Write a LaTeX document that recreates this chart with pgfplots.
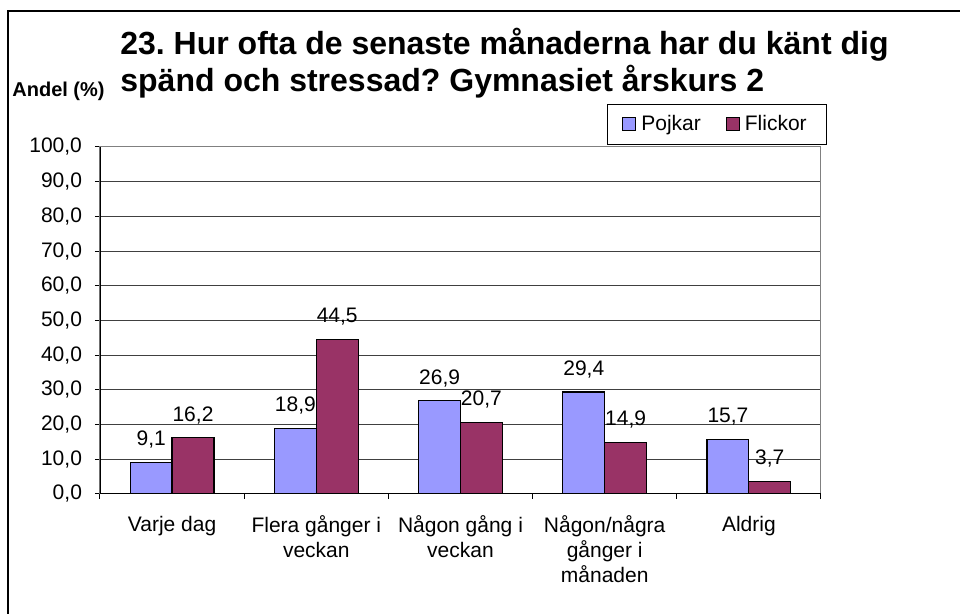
\documentclass[border=0pt]{standalone}
\usepackage{fontspec}
\setmainfont{Liberation Sans}
\usepackage{pgfplots}
\pgfplotsset{compat=1.18}
\definecolor{poj}{HTML}{9999FF}
\definecolor{fli}{HTML}{993366}
\frenchspacing
\begin{document}
\begin{tikzpicture}
\useasboundingbox (0pt,0pt) rectangle (480pt,307pt);
\draw[line width=0.6pt] (4pt,0pt) -- (4pt,301.5pt) -- (480pt,301.5pt);
\node[anchor=base west, font=\fontsize{16}{19}\selectfont\bfseries, inner sep=0pt] at (60pt,279.5pt) {23. Hur ofta de senaste månaderna har du känt dig};
\node[anchor=base west, font=\fontsize{16}{19}\selectfont\bfseries, inner sep=0pt] at (60pt,261pt) {spänd och stressad? Gymnasiet årskurs 2};
\node[anchor=base west, font=\fontsize{10}{12}\selectfont\bfseries, inner sep=0pt] at (6pt,258.5pt) {Andel (\%)};
\begin{axis}[
  at={(50pt,60pt)}, anchor=south west, scale only axis,
  width=360.5pt, height=173.5pt,
  ybar=0pt, bar width=0.29,
  xmin=-0.5, xmax=4.5, ymin=0, ymax=100,
  ytick={0,10,...,100},
  xtick={0,1,2,3,4},
  xticklabels={Varje dag, {Flera gånger i\\veckan}, {Någon gång i\\veckan}, {Någon/några\\gånger i\\månaden}, Aldrig},
  minor xtick={-0.5,0.5,1.5,2.5,3.5,4.5},
  xtick pos=bottom, ytick pos=left,
  tick align=outside,
  major tick length=2.5pt, minor tick length=2.5pt,
  major x tick style={draw=none},
  minor x tick style={draw=black, line width=0.5pt},
  major y tick style={draw=black, line width=0.5pt},
  axis line style={draw=black!50, line width=0.5pt},
  ymajorgrids, grid style={black!75, line width=0.5pt},
  tick label style={font=\fontsize{10.5}{12.5}\selectfont},
  xticklabel style={align=center, yshift=-5pt},
  yticklabel style={xshift=-3pt},
  /pgf/number format/.cd, use comma, fixed, fixed zerofill, precision=1, assume math mode=true,
  /pgfplots/.cd,
  nodes near coords,
  nodes near coords style={font=\fontsize{10.5}{12.5}\selectfont, anchor=south, text depth=0pt, inner sep=0pt, yshift=8pt, black},
  legend columns=2,
  legend style={at={(0.703,1.0058)}, anchor=south west, draw=black, line width=0.5pt,
    font=\fontsize{10.5}{12.5}\selectfont, inner xsep=7.5pt, inner ysep=5pt,
    nodes={inner xsep=2.5pt, inner ysep=0pt, text height=7.8pt, text depth=2.2pt},
    /tikz/every even column/.append style={column sep=10pt}},
  legend image code/.code={\draw[#1, line width=0.5pt] (0pt,-3.25pt) rectangle (6.5pt,3.25pt);},
]
\addplot[fill=poj, draw=black, line width=0.6pt] coordinates {(0,9.1) (1,18.9) (2,26.9) (3,29.4) (4,15.7)};
\addplot[fill=fli, draw=black, line width=0.6pt] coordinates {(0,16.2) (1,44.5) (2,20.7) (3,14.9) (4,3.7)};
\legend{Pojkar, Flickor}
\draw[black, line width=0.6pt] (rel axis cs:0,1) -- (rel axis cs:0,0) -- (rel axis cs:1,0);
\end{axis}
\end{tikzpicture}
\end{document}
